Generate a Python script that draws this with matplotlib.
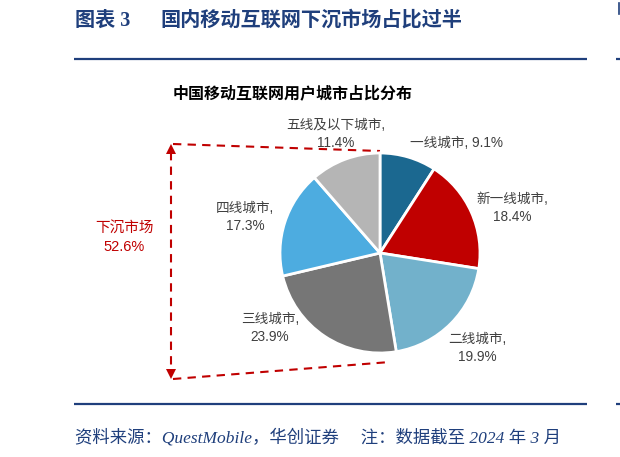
import matplotlib
matplotlib.use("Agg")
import matplotlib.pyplot as plt

plt.rcParams['font.family'] = ['Liberation Sans', 'Noto Sans CJK SC', 'DejaVu Sans']

# ---- data ----
categories = ["一线城市", "新一线城市", "二线城市", "三线城市", "四线城市", "五线及以下城市"]
shares = [9.1, 18.4, 19.9, 23.9, 17.3, 11.4]
colors = ["#1B6890", "#C00000", "#72B1CB", "#767676", "#4DACE0", "#B5B5B5"]
sink_label = "下沉市场"
sink_share = 52.6

title_num = "图表 3"
title = "国内移动互联网下沉市场占比过半"
subtitle = "中国移动互联网用户城市占比分布"
footer = "资料来源：QuestMobile，华创证券     注：数据截至 2024 年 3 月"

W, H = 620, 457
fig = plt.figure(figsize=(W / 100, H / 100), dpi=100)
bg = fig.add_axes([0, 0, 1, 1])
bg.set_xlim(0, W)
bg.set_ylim(H, 0)
bg.axis('off')

navy = "#1F3F7C"
red = "#C00000"
txt = "#404040"

# title & rules
tfam = ['Liberation Serif', 'Noto Sans CJK SC']
bg.text(75, 21, title_num, color=navy, fontsize=14.5, fontweight='bold',
        family=tfam, ha='left', va='center')
bg.text(160, 21, title, color=navy, fontsize=14.5, fontweight='bold',
        family=tfam, ha='left', va='center')
bg.plot([74, 587], [59, 59], color=navy, lw=1.6, solid_capstyle='butt')
bg.plot([74, 587], [404, 404], color=navy, lw=1.6, solid_capstyle='butt')
bg.plot([616, 620], [59, 59], color=navy, lw=1.6, solid_capstyle='butt')
bg.plot([616, 620], [404, 404], color=navy, lw=1.6, solid_capstyle='butt')
bg.plot([619, 619], [3, 14], color=navy, lw=1.2)

bg.text(75, 438, footer, color=navy, fontsize=12.5, style='italic',
        family=tfam, ha='left', va='center')

bg.text(293, 93, subtitle, color='black', fontsize=11.5, fontweight='bold',
        family=['Noto Sans CJK SC'], ha='center', va='center')

# pie
cx, cy, r = 380, 253, 100
pax = fig.add_axes([(cx - r) / W, (H - cy - r) / H, 2 * r / W, 2 * r / H])
pax.pie(shares, colors=colors, startangle=90, counterclock=False,
        wedgeprops=dict(edgecolor='white', linewidth=2))
pax.set_xlim(-1.0, 1.0)
pax.set_ylim(-1.0, 1.0)
pax.axis('off')

# slice labels
lab_fs = 9.8
label_pos = [
    (456, 143, True),
    (512, 208, False),
    (477, 348, False),
    (270, 328, False),
    (245, 217, False),
    (336, 134, False),
]
for cat, val, (x, y, single) in zip(categories, shares, label_pos):
    s = f"{cat}, {val}%" if single else f"{cat},\n{val}%"
    bg.text(x, y, s, color=txt, fontsize=lab_fs, ha='center', va='center',
            linespacing=1.3)

# sinking market bracket
dash = dict(color=red, lw=1.5, ls=(0, (4, 3)))
bg.plot([173, 380], [144, 151], **dash)
bg.plot([173, 390], [379, 362], **dash)
bg.plot([171, 171], [152, 371], **dash)
bg.plot([171], [149], marker='^', color=red, markersize=7, markeredgewidth=0)
bg.plot([171], [374], marker='v', color=red, markersize=7, markeredgewidth=0)
bg.text(124, 238, f"{sink_label}\n{sink_share}%", color=red, fontsize=10.5,
        ha='center', va='center', linespacing=1.35)

fig.savefig("out.png", dpi=100)
